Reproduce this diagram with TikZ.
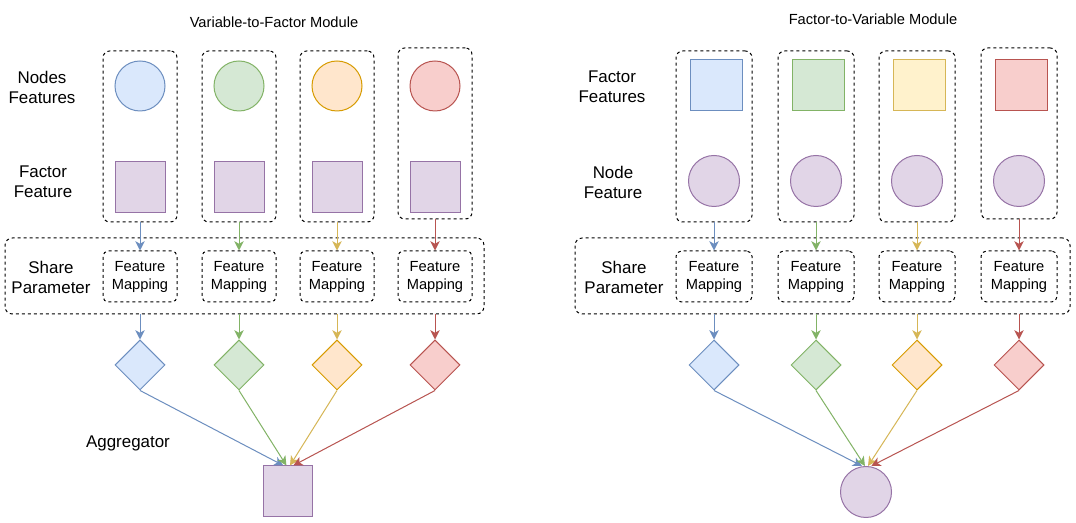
\documentclass[tikz,border=0pt]{standalone}
\usepackage{fontspec}
\setmainfont{Liberation Sans}
\usetikzlibrary{shapes.geometric,arrows.meta}
\definecolor{bF}{HTML}{DAE8FC}\definecolor{bS}{HTML}{6C8EBF}
\definecolor{gF}{HTML}{D5E8D4}\definecolor{gS}{HTML}{82B366}
\definecolor{oF}{HTML}{FFE6CC}\definecolor{oS}{HTML}{D79B00}
\definecolor{yF}{HTML}{FFF2CC}\definecolor{yS}{HTML}{D6B656}
\definecolor{rF}{HTML}{F8CECC}\definecolor{rS}{HTML}{B85450}
\definecolor{pF}{HTML}{E1D5E7}\definecolor{pS}{HTML}{9673A6}
\begin{document}
\begin{tikzpicture}[x=0.75pt,y=-0.75pt,line width=0.75pt,
  dsh/.style={draw=black,dash pattern=on 2.25pt off 2.25pt,line width=0.75pt},
  colbox/.style={dsh,rounded corners=5pt,minimum width=55.5pt,minimum height=128.25pt,inner sep=0pt},
  colboxr/.style={colbox,minimum width=57pt},
  fmbox/.style={dsh,rounded corners=4pt,minimum width=55.5pt,minimum height=38.25pt,inner sep=0pt,
     align=center,font=\fontsize{11}{13.5}\selectfont},
  fmboxr/.style={fmbox,minimum width=57pt},
  sharebox/.style={dsh,rounded corners=5.5pt,minimum height=57pt,inner sep=0pt},
  circ/.style={circle,draw,inner sep=0pt,minimum size=37.5pt},
  sq/.style={rectangle,draw,inner sep=0pt,minimum width=37.5pt,minimum height=38.25pt},
  dia/.style={diamond,draw,inner sep=0pt,aspect=1,minimum width=37.5pt,minimum height=37.5pt},
  lbl/.style={align=center,font=\fontsize{12.7}{15}\selectfont,inner sep=0pt},
  ttl/.style={font=\fontsize{11}{13}\selectfont,inner sep=0pt},
  arr/.style={-{Stealth[length=7pt,width=7pt,inset=2pt]},line width=0.75pt}
]
\useasboundingbox (0,0) rectangle (1076,523);
\fill[white] (0,0) rectangle (1076,523);

% ---------------- Left module ----------------
\node[ttl] (t1) at (274,22) {Variable-to-Factor Module};
\node[lbl] (l1) at (42,87) {Nodes\\Features};
\node[lbl] (l2) at (43,182) {Factor\\Feature};
\node[lbl] (l3) at (51,277) {Share\\Parameter};
\node[lbl] (l4) at (128,443) {Aggregator};

\node[colbox] (c1) at (140,136.5) {};
\node[colbox] (c2) at (239,136.5) {};
\node[colbox] (c3) at (337,136.5) {};
\node[colbox] (c4) at (435,133.5) {};

\node[circ,fill=bF,draw=bS] (n1) at (140,86) {};
\node[circ,fill=gF,draw=gS] (n2) at (239,86) {};
\node[circ,fill=oF,draw=oS] (n3) at (337,86) {};
\node[circ,fill=rF,draw=rS] (n4) at (435,86) {};

\node[sq,fill=pF,draw=pS] (f1) at (140,187.5) {};
\node[sq,fill=pF,draw=pS] (f2) at (239,187.5) {};
\node[sq,fill=pF,draw=pS] (f3) at (337,187.5) {};
\node[sq,fill=pF,draw=pS] (f4) at (435,187.5) {};

\node[sharebox,minimum width=359.25pt] (s) at (244.5,276) {};
\node[fmbox] (m1) at (140,276.5) {Feature\\Mapping};
\node[fmbox] (m2) at (239,276.5) {Feature\\Mapping};
\node[fmbox] (m3) at (337,276.5) {Feature\\Mapping};
\node[fmbox] (m4) at (435,276.5) {Feature\\Mapping};

\node[dia,fill=bF,draw=bS] (d1) at (140,365) {};
\node[dia,fill=gF,draw=gS] (d2) at (239,365) {};
\node[dia,fill=oF,draw=oS] (d3) at (337,365) {};
\node[dia,fill=rF,draw=rS] (d4) at (435,365) {};

\node[sq,fill=pF,draw=pS,minimum width=36.75pt] (agg) at (288,491.5) {};

\draw[arr,bS] (c1.south) -- (m1.north);
\draw[arr,gS] (c2.south) -- (m2.north);
\draw[arr,yS] (c3.south) -- (m3.north);
\draw[arr,rS] (c4.south) -- (m4.north);

\draw[arr,bS] (s.south -| d1.north) -- (d1.north);
\draw[arr,gS] (s.south -| d2.north) -- (d2.north);
\draw[arr,yS] (s.south -| d3.north) -- (d3.north);
\draw[arr,rS] (s.south -| d4.north) -- (d4.north);

\draw[arr,bS] (d1.south) -- ([xshift=-3.5pt]agg.north);
\draw[arr,gS] (d2.south) -- ([xshift=-1.2pt]agg.north);
\draw[arr,yS] (d3.south) -- ([xshift=1.5pt]agg.north);
\draw[arr,rS] (d4.south) -- ([xshift=4pt]agg.north);

% ---------------- Right module ----------------
\node[ttl] (t2) at (873,19) {Factor-to-Variable Module};
\node[lbl] (r1) at (612,87) {Factor\\Features};
\node[lbl] (r2) at (613,182) {Node\\Feature};
\node[lbl] (r3) at (624,277) {Share\\Parameter};

\node[colboxr] (k1) at (714,136.5) {};
\node[colboxr] (k2) at (816,136.5) {};
\node[colboxr] (k3) at (917,136.5) {};
\node[colboxr] (k4) at (1019,133.5) {};

\node[sq,fill=bF,draw=bS,minimum width=39pt] (q1) at (716,85.5) {};
\node[sq,fill=gF,draw=gS,minimum width=39pt] (q2) at (818,85.5) {};
\node[sq,fill=yF,draw=yS,minimum width=39pt] (q3) at (919,85.5) {};
\node[sq,fill=rF,draw=rS,minimum width=39pt] (q4) at (1021,85.5) {};

\node[circ,fill=pF,draw=pS,minimum size=38.25pt] (v1) at (714,181) {};
\node[circ,fill=pF,draw=pS,minimum size=38.25pt] (v2) at (816,181) {};
\node[circ,fill=pF,draw=pS,minimum size=38.25pt] (v3) at (917,181) {};
\node[circ,fill=pF,draw=pS,minimum size=38.25pt] (v4) at (1019,181) {};

\node[sharebox,minimum width=371.25pt] (sr) at (822.5,276) {};
\node[fmboxr] (p1) at (714,276.5) {Feature\\Mapping};
\node[fmboxr] (p2) at (816,276.5) {Feature\\Mapping};
\node[fmboxr] (p3) at (917,276.5) {Feature\\Mapping};
\node[fmboxr] (p4) at (1019,276.5) {Feature\\Mapping};

\node[dia,fill=bF,draw=bS] (e1) at (714,365) {};
\node[dia,fill=gF,draw=gS] (e2) at (816,365) {};
\node[dia,fill=oF,draw=oS] (e3) at (917,365) {};
\node[dia,fill=rF,draw=rS] (e4) at (1019,365) {};

\node[circ,fill=pF,draw=pS,minimum size=38.25pt] (vout) at (866,492) {};

\draw[arr,bS] (k1.south) -- (p1.north);
\draw[arr,gS] (k2.south) -- (p2.north);
\draw[arr,yS] (k3.south) -- (p3.north);
\draw[arr,rS] (k4.south) -- (p4.north);

\draw[arr,bS] (sr.south -| e1.north) -- (e1.north);
\draw[arr,gS] (sr.south -| e2.north) -- (e2.north);
\draw[arr,yS] (sr.south -| e3.north) -- (e3.north);
\draw[arr,rS] (sr.south -| e4.north) -- (e4.north);

\draw[arr,bS] (e1.south) -- ([xshift=-3pt]vout.north);
\draw[arr,gS] (e2.south) -- ([xshift=-0.8pt]vout.north);
\draw[arr,yS] (e3.south) -- ([xshift=1.5pt]vout.north);
\draw[arr,rS] (e4.south) -- ([xshift=4pt]vout.north);
\end{tikzpicture}
\end{document}
